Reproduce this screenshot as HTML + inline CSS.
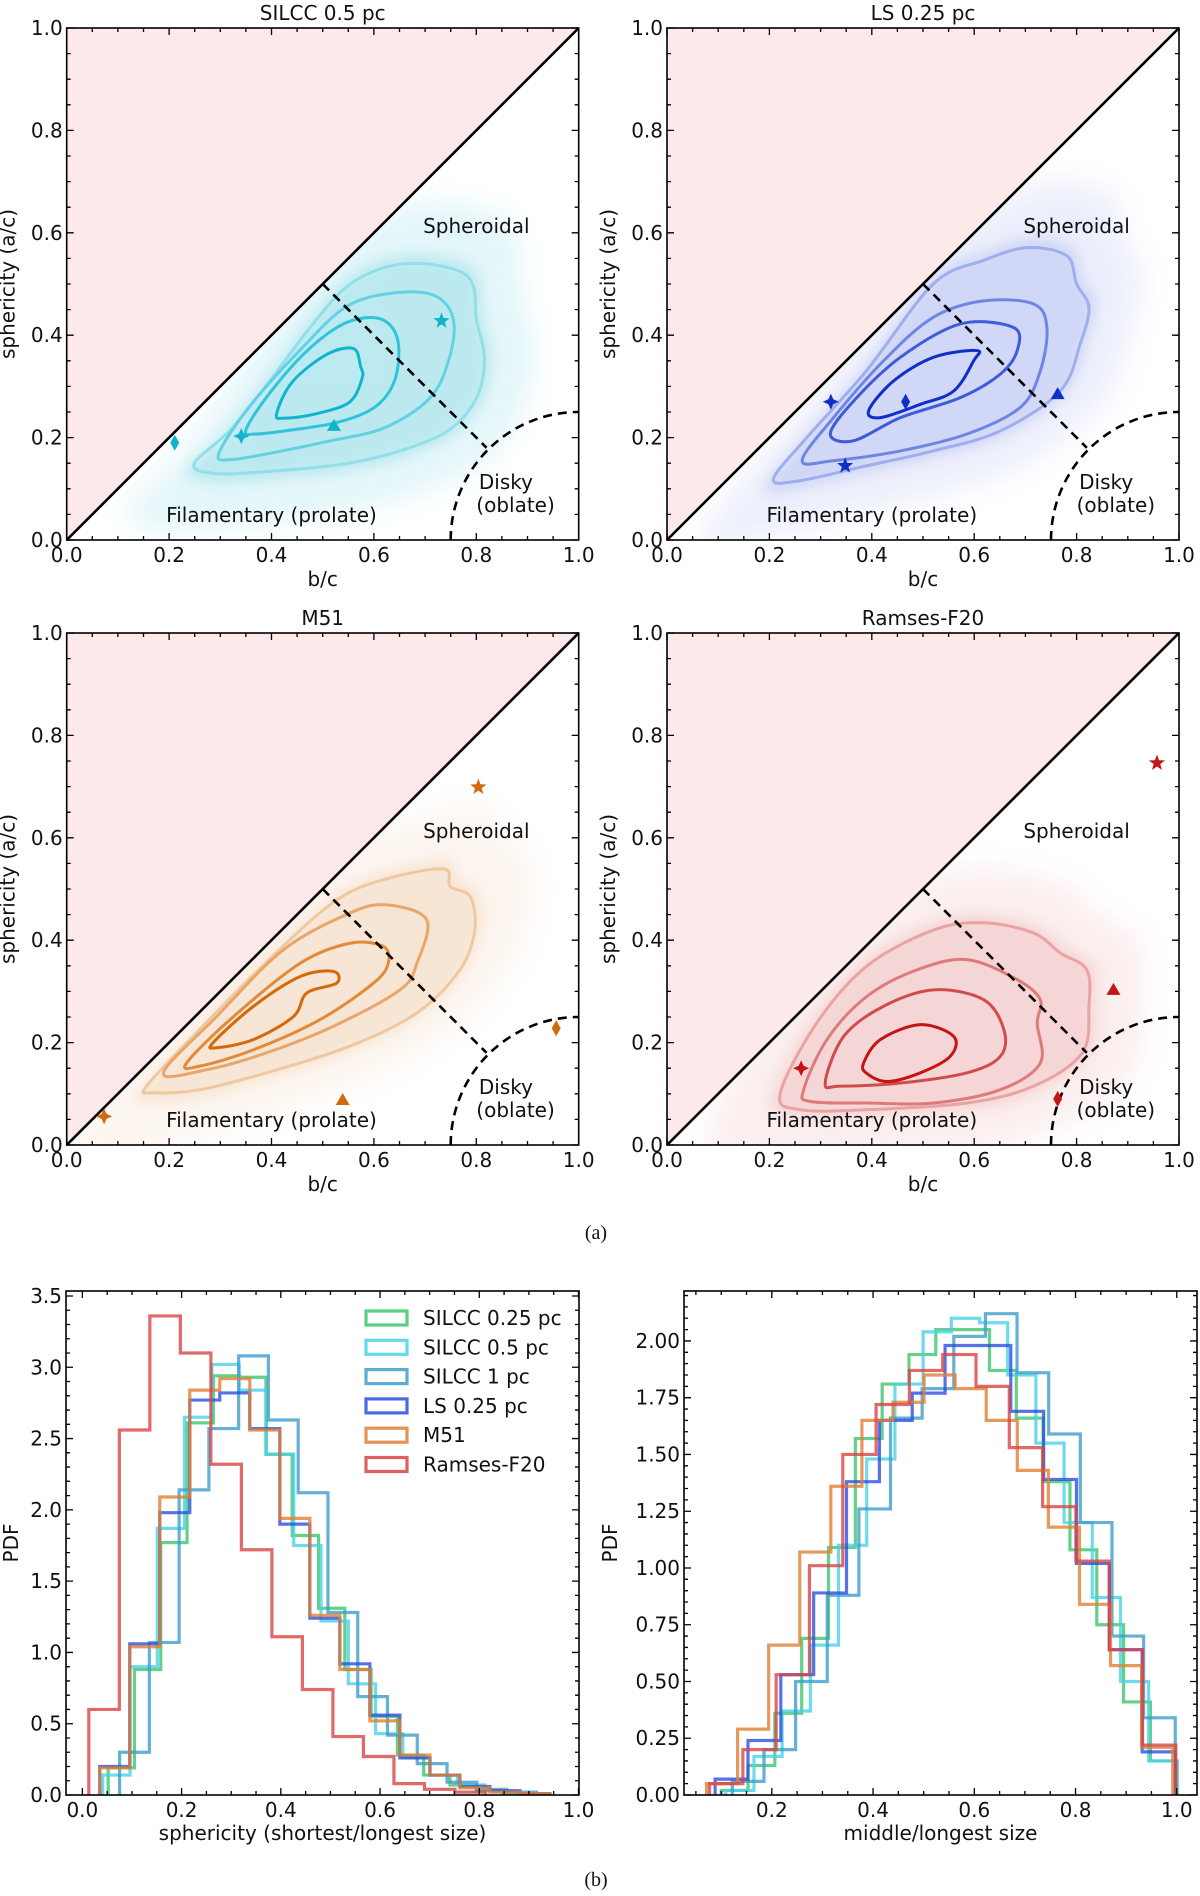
<!DOCTYPE html>
<html><head><meta charset="utf-8"><style>
html,body{margin:0;padding:0;background:#fff;}
svg text{font-family:"DejaVu Sans","Liberation Sans",sans-serif;fill:#111;}
</style></head><body>
<svg id="fig" width="1200" height="1891" viewBox="0 0 1200 1891" xmlns="http://www.w3.org/2000/svg">
<defs><filter id="blur6" x="-20%" y="-20%" width="140%" height="140%"><feGaussianBlur stdDeviation="6"/></filter>
<filter id="blur14" x="-30%" y="-30%" width="160%" height="160%"><feGaussianBlur stdDeviation="14"/></filter></defs>
<text x="596" y="1239" text-anchor="middle" style="font-family:'Liberation Serif',serif;font-size:20px">(a)</text>
<text x="596" y="1886" text-anchor="middle" style="font-family:'Liberation Serif',serif;font-size:20px">(b)</text>
</svg>
<script>
// ---------- scatter panel data ----------
const panelTitles = ['SILCC 0.5 pc','LS 0.25 pc','M51','Ramses-F20'];
const tlContour1 = [[.249,.149],[.32,.215],[.395,.308],[.47,.408],[.545,.493],[.62,.532],[.694,.54],[.769,.524],[.795,.493],[.8,.432],[.816,.354],[.8,.277],[.747,.215],[.657,.176],[.545,.149],[.395,.134],[.29,.13]];
const tlContour2 = [[.297,.169],[.357,.261],[.455,.37],[.545,.455],[.634,.482],[.717,.478],[.755,.432],[.747,.354],[.709,.277],[.62,.219],[.507,.192],[.395,.169],[.32,.157]];
const tlContour3 = [[.35,.215],[.395,.285],[.47,.37],[.545,.424],[.612,.432],[.646,.393],[.642,.316],[.604,.261],[.53,.23],[.44,.215],[.37,.207]];
const tlContour4 = [[.41,.246],[.44,.308],[.507,.362],[.56,.374],[.574,.339],[.577,.316],[.552,.269],[.485,.246],[.425,.238]];
const trContour1 = [[.208,.119],[.273,.2],[.39,.331],[.52,.5],[.618,.546],[.703,.571],[.781,.555],[.8,.5],[.824,.454],[.807,.383],[.768,.291],[.651,.213],[.52,.174],[.39,.145],[.26,.116]];
const trContour2 = [[.264,.155],[.326,.24],[.423,.35],[.52,.435],[.618,.467],[.716,.461],[.742,.415],[.729,.33],[.69,.259],[.586,.207],[.456,.174],[.326,.155]];
const trContour3 = [[.319,.207],[.365,.272],[.456,.357],[.573,.422],[.677,.415],[.684,.37],[.651,.324],[.573,.278],[.456,.239],[.365,.194]];
const trContour4 = [[.394,.253],[.443,.311],[.521,.357],[.605,.37],[.599,.35],[.56,.291],[.495,.265],[.417,.239]];
const blContour1 = [[.156,.115],[.26,.226],[.39,.357],[.521,.474],[.618,.518],[.736,.539],[.749,.505],[.788,.485],[.797,.42],[.768,.342],[.684,.258],[.553,.193],[.39,.141],[.26,.108],[.169,.102]];
const blContour2 = [[.189,.141],[.293,.251],[.423,.381],[.553,.453],[.625,.469],[.703,.44],[.684,.355],[.651,.303],[.521,.232],[.39,.18],[.273,.147]];
const blContour3 = [[.234,.16],[.326,.251],[.456,.355],[.553,.394],[.618,.388],[.628,.355],[.599,.316],[.495,.245],[.365,.186],[.26,.154]];
const blContour4 = [[.286,.2],[.365,.271],[.456,.329],[.521,.339],[.527,.316],[.469,.297],[.443,.251],[.365,.206],[.293,.19]];
const brContour1 = [[.221,.1],[.293,.239],[.391,.35],[.521,.42],[.618,.434],[.716,.414],[.768,.375],[.82,.342],[.824,.27],[.811,.18],[.716,.115],[.586,.082],[.39,.069],[.26,.069]];
const brContour2 = [[.267,.108],[.3125,.206],[.39,.29],[.488,.342],[.586,.362],[.684,.323],[.729,.284],[.723,.238],[.729,.16],[.651,.108],[.521,.082],[.39,.082],[.28,.085]];
const brContour3 = [[.309,.121],[.345,.212],[.423,.271],[.521,.303],[.618,.284],[.658,.225],[.651,.173],[.586,.141],[.456,.121],[.339,.115]];
const brContour4 = [[.384,.16],[.417,.206],[.495,.235],[.56,.212],[.553,.173],[.495,.141],[.43,.124],[.39,.14]];
// markers: [x,y,type]
const tlMarkers = [[.211,.19,'diamond'],[.341,.203,'plus'],[.522,.223,'triangle'],[.732,.428,'star']];
const trMarkers = [[.32,.27,'plus'],[.466,.27,'diamond'],[.763,.285,'triangle'],[.348,.145,'star']];
const blMarkers = [[.804,.699,'star'],[.956,.228,'diamond'],[.539,.088,'triangle'],[.073,.056,'plus']];
const brMarkers = [[.957,.746,'star'],[.872,.303,'triangle'],[.262,.15,'plus'],[.763,.09,'diamond']];
const axisTicks = [0,0.2,0.4,0.6,0.8,1.0];
const axisTickLabels = ['0.0','0.2','0.4','0.6','0.8','1.0'];

// ---------- histogram data ----------
const histNames = ['SILCC 0.25 pc','SILCC 0.5 pc','SILCC 1 pc','LS 0.25 pc','M51','Ramses-F20'];
const histColors = ['#3cc56c','#48d2e6','#3f9ecb','#2d4ee0','#e08035','#d84545'];
const sphStart = [0.052,0.041,0.075,0.035,0.035,0.013];
const sphWidth = [0.053,0.055,0.06,0.0605,0.0605,0.0615];
const sphGreen = [0.19,0.88,1.77,2.61,2.94,2.93,2.39,1.82,1.31,0.88,0.55,0.28,0.14,0.07,0.03,0.01];
const sphCyan = [0.14,0.9,1.87,2.65,3.02,2.84,2.39,1.75,1.22,0.78,0.43,0.26,0.14,0.07,0.03,0.01];
const sphSteel = [0.3,1.07,2.14,2.57,3.08,2.63,2.12,1.28,0.69,0.42,0.22,0.09,0.04,0.02];
const sphBlue = [0.2,1.06,1.98,2.77,2.82,2.57,1.9,1.24,0.92,0.56,0.26,0.14,0.06,0.03,0.01];
const sphOrange = [0.19,1.04,2.09,2.84,2.92,2.56,1.94,1.26,0.88,0.52,0.28,0.14,0.05,0.02,0.01];
const sphRed = [0.6,2.56,3.36,3.10,2.32,1.72,1.11,0.74,0.41,0.27,0.08,0.04,0.02];
const midStart = [0.1,0.109,0.122,0.088,0.071,0.077];
const midWidth = [0.053,0.0557,0.0625,0.0649,0.0614,0.0658];
const midGreen = [0.02,0.13,0.36,0.69,1.09,1.57,1.81,1.94,2.05,2.05,1.87,1.66,1.38,1.08,0.75,0.41,0.15];
const midCyan = [0.02,0.17,0.37,0.66,1.10,1.48,1.81,2.04,2.10,2.08,1.85,1.55,1.20,0.87,0.50,0.15];
const midSteel = [0.06,0.2,0.5,0.88,1.26,1.66,1.79,2.02,2.12,1.86,1.59,1.20,0.70,0.34];
const midBlue = [0.07,0.24,0.53,0.89,1.38,1.65,1.77,1.98,1.98,1.69,1.39,1.02,0.64,0.19];
const midOrange = [0.05,0.29,0.66,1.07,1.36,1.65,1.73,1.85,1.79,1.65,1.43,1.18,0.84,0.57,0.21];
const midRed = [0.05,0.2,0.53,1.01,1.5,1.72,1.87,1.94,1.80,1.53,1.27,1.03,0.64,0.22];
const sphYTicks = [0,0.5,1,1.5,2,2.5,3,3.5];
const sphYLabels = ['0.0','0.5','1.0','1.5','2.0','2.5','3.0','3.5'];
const midYTicks = [0,0.25,0.5,0.75,1,1.25,1.5,1.75,2];
const midYLabels = ['0.00','0.25','0.50','0.75','1.00','1.25','1.50','1.75','2.00'];
const midXTicks = [0.2,0.4,0.6,0.8,1.0];
const midXLabels = ['0.2','0.4','0.6','0.8','1.0'];

const FS=20;
const NS='http://www.w3.org/2000/svg';
const svg=document.getElementById('fig');
function mk(tag,attrs,parent){const e=document.createElementNS(NS,tag);for(const k in attrs)e.setAttribute(k,attrs[k]);(parent||svg).appendChild(e);return e;}
function txt(x,y,s,size,anchor,parent){const t=mk('text',{x:x,y:y,'font-size':size,'text-anchor':anchor||'middle'},parent);t.textContent=s;return t;}
function smooth(pts){
  const n=pts.length;let d='M'+pts[0][0]+','+pts[0][1];
  for(let i=0;i<n;i++){const p0=pts[(i-1+n)%n],p1=pts[i],p2=pts[(i+1)%n],p3=pts[(i+2)%n];
    const c1=[p1[0]+(p2[0]-p0[0])/6,p1[1]+(p2[1]-p0[1])/6],c2=[p2[0]-(p3[0]-p1[0])/6,p2[1]-(p3[1]-p1[1])/6];
    d+=' C'+c1[0]+','+c1[1]+' '+c2[0]+','+c2[1]+' '+p2[0]+','+p2[1];}
  return d+'Z';}

function scatterPanel(idx,ox,oy,contours,markers,colors,cloudColor,haloOp,coreOp){
  const S=512;
  const X=v=>ox+v*S, Y=v=>oy+S-v*S;
  const g=mk('g',{});
  
  
  const clipId='clip'+idx;
  const cp=mk('clipPath',{id:clipId},g);mk('polygon',{points:`${X(0)},${Y(0)} ${X(1)},${Y(1)} ${X(1)},${Y(0)}`},cp);
  const excl=mk('polygon',{points:`${X(0)},${Y(0)} ${X(0)},${Y(1)} ${X(1)},${Y(1)}`,fill:'#fde9e9'},g);
  
  
  const cg=mk('g',{'clip-path':`url(#${clipId})`},g);
  const c1=contours[0];let cx=0,cy=0;c1.forEach(p=>{cx+=p[0];cy+=p[1];});cx/=c1.length;cy/=c1.length;
  const halo=mk('path',{d:smooth(c1.map(p=>[X(cx+(p[0]-cx)*1.4),Y(cy+(p[1]-cy)*1.55)])),fill:cloudColor,opacity:haloOp,filter:'url(#blur14)'},cg);
  
  
  const core=mk('path',{d:smooth(c1.map(p=>[X(cx+(p[0]-cx)*1.05),Y(cy+(p[1]-cy)*1.08)])),fill:cloudColor,opacity:coreOp,filter:'url(#blur6)'},cg);
  
  
  contours.forEach((c,i)=>{const p=mk('path',{d:smooth(c.map(q=>[X(q[0]),Y(q[1])])),fill:'none',stroke:colors[i],'stroke-width':3},g);
    
    });
  const diag=mk('line',{x1:X(0),y1:Y(0),x2:X(1),y2:Y(1),stroke:'#000','stroke-width':2.6},g);
  
  
  const dl=mk('line',{x1:X(0.5),y1:Y(0.5),x2:X(0.82),y2:Y(0.18),stroke:'#000','stroke-width':2.6,'stroke-dasharray':'9,6'},g);
  
  
  const arc=mk('path',{d:`M${X(0.75)},${Y(0)} A${0.25*S},${0.25*S} 0 0 1 ${X(1)},${Y(0.25)}`,fill:'none',stroke:'#000','stroke-width':2.6,'stroke-dasharray':'9,6'},g);
  
  
  markers.forEach(m=>{const x=X(m[0]),y=Y(m[1]);let e;const col=colors[3];
    if(m[2]==='diamond')e=mk('polygon',{points:`${x},${y-8} ${x+4.5},${y} ${x},${y+8} ${x-4.5},${y}`,fill:col},g);
    else if(m[2]==='triangle')e=mk('polygon',{points:`${x},${y-7} ${x+7},${y+5} ${x-7},${y+5}`,fill:col},g);
    else if(m[2]==='plus')e=mk('polygon',{points:`${x},${y-8} ${x+2.5},${y-2.5} ${x+8},${y} ${x+2.5},${y+2.5} ${x},${y+8} ${x-2.5},${y+2.5} ${x-8},${y} ${x-2.5},${y-2.5}`,fill:col},g);
    else {let pts=[];for(let k=0;k<10;k++){const r=k%2?3.5:8.5,a=-Math.PI/2+k*Math.PI/5;pts.push((x+r*Math.cos(a))+','+(y+r*Math.sin(a)));}e=mk('polygon',{points:pts.join(' '),fill:col},g);}
    
    });
  const t1=txt(X(0.8),Y(0.6),'Spheroidal',FS,'middle',g);
  
  
  const t2=txt(X(0.4),Y(0.035),'Filamentary (prolate)',FS,'middle',g);
  
  
  const t3=txt(X(0.805),Y(0.1),'Disky',FS,'start',g);
  
  
  const t4=txt(X(0.8),Y(0.055),'(oblate)',FS,'start',g);
  
  
  const fr=mk('rect',{x:ox,y:oy,width:S,height:S,fill:'none',stroke:'#000','stroke-width':1.6},g);
  
  
  let td='';
  for(let k=0;k<=20;k++){const v=k*0.05,L=(k%4===0)?7:4;
    td+=`M${X(v)},${Y(0)}v${-L}M${X(v)},${Y(1)}v${L}M${X(0)},${Y(v)}h${L}M${X(1)},${Y(v)}h${-L}`;}
  const tk=mk('path',{d:td,stroke:'#000','stroke-width':1.3,fill:'none'},g);
  
  
  axisTicks.forEach((v,i)=>{const a=txt(X(v),Y(0)+22,axisTickLabels[i],FS,'middle',g);
    
    
    const b=txt(X(0)-4,Y(v)+7,axisTickLabels[i],FS,'end',g);
    
    });
  const xl=txt(X(0.5),Y(0)+46,'b/c',FS,'middle',g);
  
  
  const yl=txt(0,0,'sphericity (a/c)',FS,'middle',g);yl.setAttribute('transform',`translate(${ox-52},${Y(0.5)}) rotate(-90)`);
  
  
  const tt=txt(X(0.5),oy-8,panelTitles[idx],FS,'middle',g);
  
  
}
scatterPanel(0,66.7,28,[tlContour1,tlContour2,tlContour3,tlContour4],tlMarkers,['#92dfea','#62d2e3','#2fc4da','#10b4cc'],'#8fdbe6',0.25,0.45);
scatterPanel(1,667,28,[trContour1,trContour2,trContour3,trContour4],trMarkers,['#9eaeee','#6f85e4','#3e5cd8','#0f2fc8'],'#aab6ef',0.22,0.4);
scatterPanel(2,66.7,633,[blContour1,blContour2,blContour3,blContour4],blMarkers,['#f0c8a0','#e9a66a','#e08a3a','#d2690a'],'#f2d3b6',0.22,0.45);
scatterPanel(3,667,633,[brContour1,brContour2,brContour3,brContour4],brMarkers,['#e9a3a3','#dd7b7b','#d04c4c','#c41414'],'#eeb2b2',0.22,0.4);

// ---------- histograms ----------
function histPanel(name,fx0,fx1,fy0,fy1,xmin,xmax,ymax,starts,widths,series,yTicks,yLabels,yMinor,xTicks,xLabels,xlabel,pdfX){
  const X=v=>fx0+(v-xmin)/(xmax-xmin)*(fx1-fx0), Y=v=>fy1-v/ymax*(fy1-fy0);
  const g=mk('g',{});
  
  
  series.forEach((vals,s)=>{let x=starts[s],d=`M${X(x)},${Y(0)}`;
    vals.forEach(v=>{d+=`L${X(x)},${Y(v)}`;x+=widths[s];d+=`L${X(x)},${Y(v)}`;});
    d+=`L${X(x)},${Y(0)}`;
    const p=mk('path',{d:d,fill:'none',stroke:histColors[s],'stroke-width':3.2,opacity:0.8,'stroke-linejoin':'miter'},g);
    
    });
  const fr=mk('rect',{x:fx0,y:fy0,width:fx1-fx0,height:fy1-fy0,fill:'none',stroke:'#000','stroke-width':1.6},g);
  
  
  let td='';
  for(let v=0;v<=1.0001;v+=0.05){const k=Math.round(v/0.05),L=(k%4===0)?7:4;if(X(v)<fx0-0.5||X(v)>fx1+0.5)continue;
    td+=`M${X(v)},${fy1}v${-L}M${X(v)},${fy0}v${L}`;}
  for(let v=0;v<=ymax+1e-6;v+=yMinor){const maj=yTicks.some(t=>Math.abs(t-v)<1e-6),L=maj?7:4;
    td+=`M${fx0},${Y(v)}h${L}M${fx1},${Y(v)}h${-L}`;}
  const tk=mk('path',{d:td,stroke:'#000','stroke-width':1.3,fill:'none'},g);
  
  
  xTicks.forEach((v,i)=>{const a=txt(X(v),fy1+22,xLabels[i],FS,'middle',g);
    
    });
  yTicks.forEach((v,i)=>{const b=txt(fx0-4,Y(v)+7,yLabels[i],FS,'end',g);
    
    });
  const xl=txt((fx0+fx1)/2,fy1+45,xlabel,FS,'middle',g);
  
  
  const yl=txt(0,0,'PDF',FS,'middle',g);yl.setAttribute('transform',`translate(${pdfX},${(fy0+fy1)/2}) rotate(-90)`);
  
  
  return g;
}
histPanel('sphericity-histogram',66,579,1291,1795,-0.033,1.001,3.535,sphStart,sphWidth,[sphGreen,sphCyan,sphSteel,sphBlue,sphOrange,sphRed],sphYTicks,sphYLabels,0.1,axisTicks,axisTickLabels,'sphericity (shortest/longest size)',18);
histPanel('middle-longest-histogram',684,1197,1291,1795,0.0265,1.04,2.22,midStart,midWidth,[midGreen,midCyan,midSteel,midBlue,midOrange,midRed],midYTicks,midYLabels,0.05,midXTicks,midXLabels,'middle/longest size',617);
const lg=mk('g',{});


histNames.forEach((n,i)=>{const y=1318+i*29.3;
  const r=mk('rect',{x:366,y:y-7,width:41,height:14,fill:'none',stroke:histColors[i],'stroke-width':3.2,opacity:0.85},lg);
  
  
  const t=txt(423,y+7,n,FS,'start',lg);
  
  });
</script>
</body></html>
